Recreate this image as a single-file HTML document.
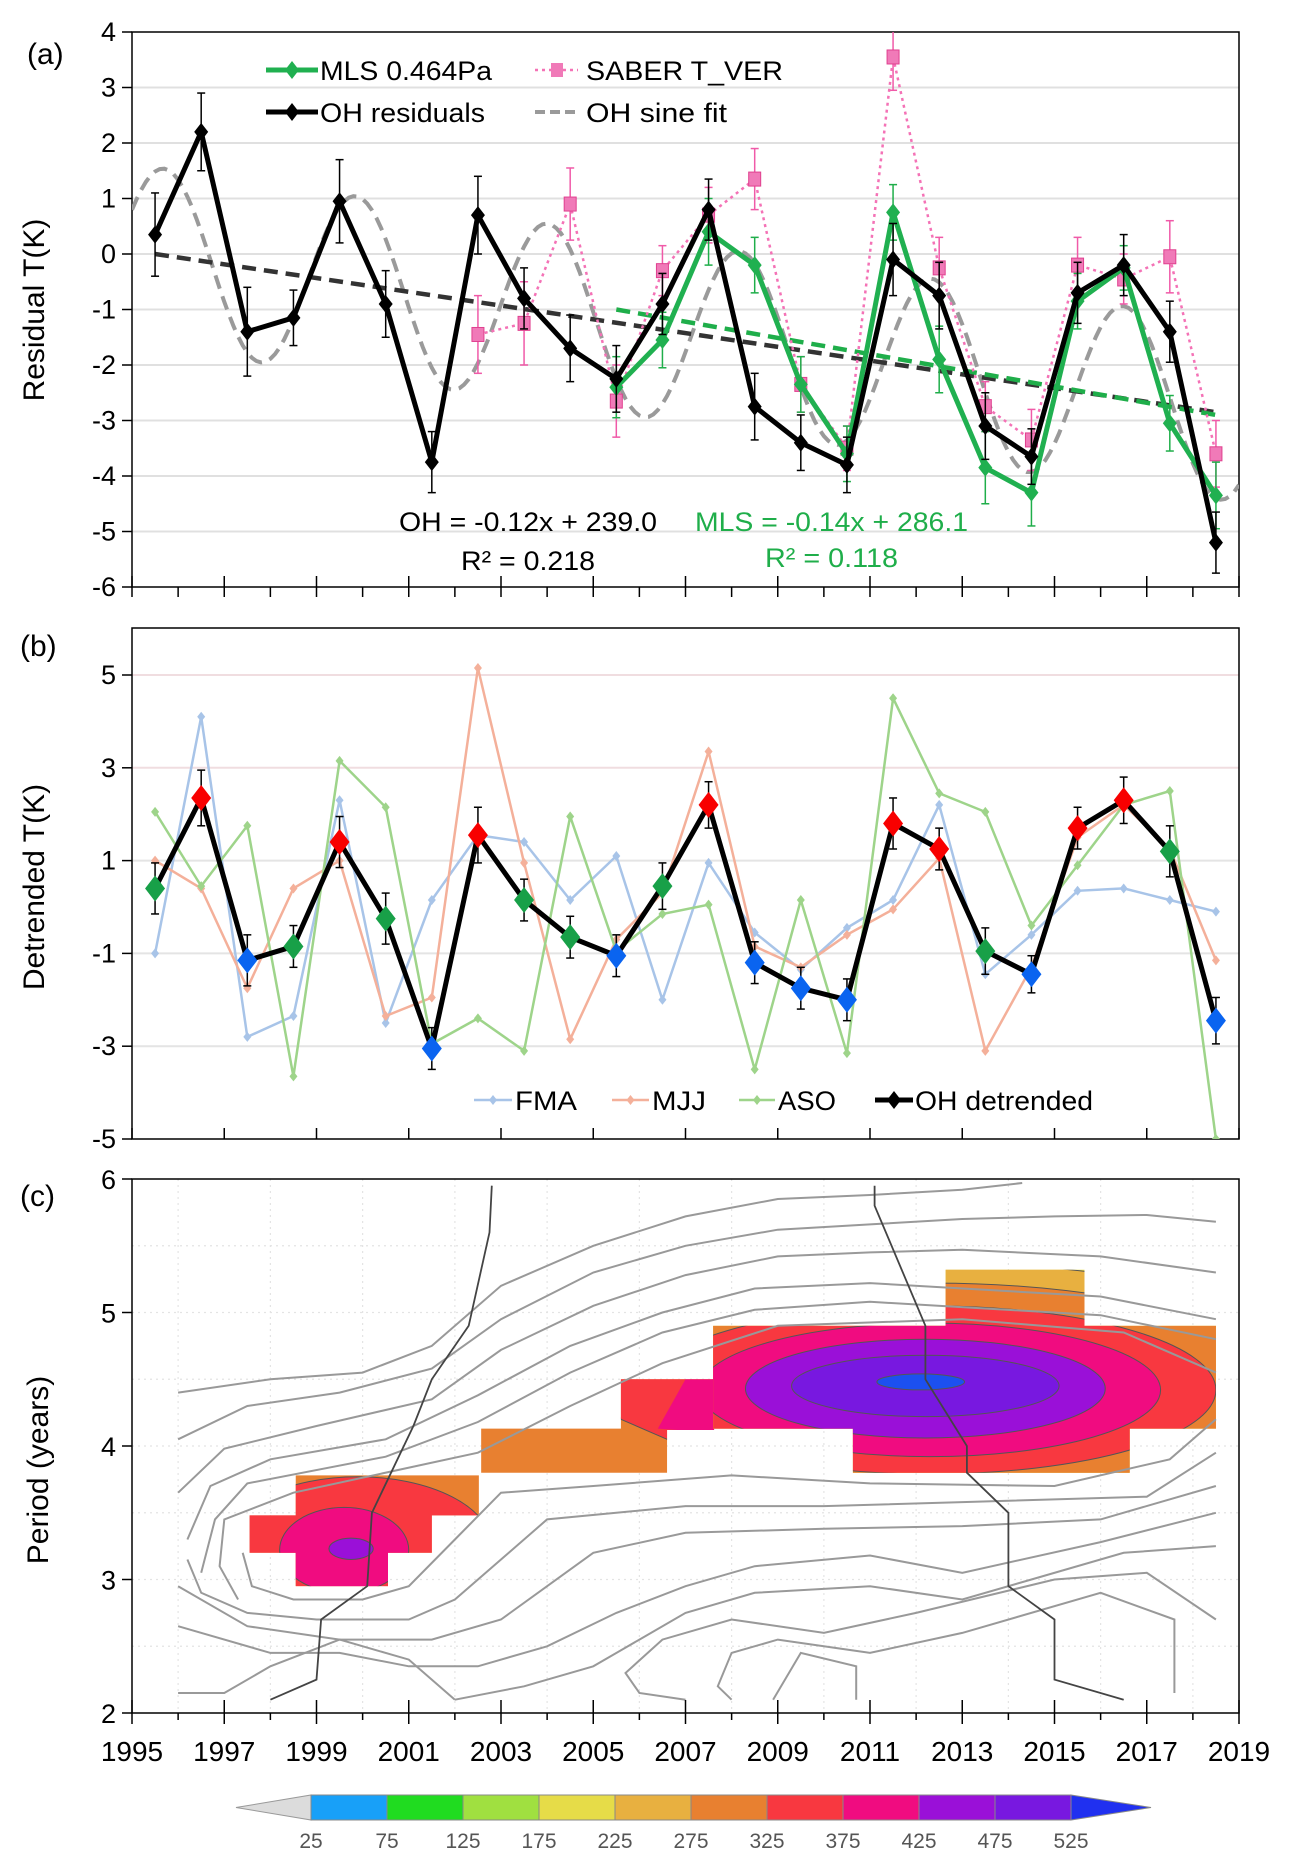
<!DOCTYPE html>
<html><head><meta charset="utf-8"><style>
html,body{margin:0;padding:0;background:#fff;}
svg{display:block;font-family:"Liberation Sans",Arial,sans-serif;}
</style></head><body>
<svg id="fig" width="1291" height="1864" viewBox="0 0 1291 1864" xmlns="http://www.w3.org/2000/svg">
<defs>
<clipPath id="clipA"><rect x="132" y="32" width="1107" height="555"/></clipPath>
<clipPath id="clipB"><rect x="132" y="628" width="1107" height="511"/></clipPath>
</defs>
<g id="pa"></g>
<g id="pb"></g>
<g id="pc"></g>
<g id="cb"></g>
</svg>
<script>
// ---------- DATA ----------
const years = [1995.5,1996.5,1997.5,1998.5,1999.5,2000.5,2001.5,2002.5,2003.5,2004.5,2005.5,2006.5,2007.5,2008.5,2009.5,2010.5,2011.5,2012.5,2013.5,2014.5,2015.5,2016.5,2017.5,2018.5];
const ohResid = [0.35,2.2,-1.4,-1.15,0.95,-0.9,-3.75,0.7,-0.8,-1.7,-2.25,-0.9,0.8,-2.75,-3.4,-3.8,-0.1,-0.75,-3.1,-3.65,-0.7,-0.2,-1.4,-5.2];
const ohErr = [0.75,0.7,0.8,0.5,0.75,0.6,0.55,0.7,0.55,0.6,0.6,0.55,0.55,0.6,0.5,0.5,0.65,0.6,0.6,0.5,0.55,0.55,0.55,0.55];
const mlsYears = [2005.5,2006.5,2007.5,2008.5,2009.5,2010.5,2011.5,2012.5,2013.5,2014.5,2015.5,2016.5,2017.5,2018.5];
const mlsVals = [-2.4,-1.55,0.4,-0.2,-2.35,-3.6,0.75,-1.9,-3.85,-4.3,-0.85,-0.25,-3.05,-4.35];
const mlsErr = [0.55,0.5,0.6,0.5,0.5,0.5,0.5,0.6,0.65,0.6,0.5,0.4,0.5,0.6];
const saberYears = [2002.5,2003.5,2004.5,2005.5,2006.5,2007.5,2008.5,2009.5,2010.5,2011.5,2012.5,2013.5,2014.5,2015.5,2016.5,2017.5,2018.5];
const saberVals = [-1.45,-1.25,0.9,-2.65,-0.3,0.7,1.35,-2.35,-3.5,3.55,-0.25,-2.75,-3.35,-0.2,-0.45,-0.05,-3.6];
const saberErr = [0.7,0.75,0.65,0.65,0.45,0.5,0.55,0.5,0.4,0.6,0.55,0.45,0.55,0.5,0.45,0.65,0.6];
// sine fit parameters: [offset at 1995, slope per year, amplitude, period, phase year]
const sineParams = [0.0, -0.119, 1.62, 4.16, 1994.66];
const ohTrendEnds = [0.0, -2.85];      // values at first/last year
const mlsTrendEnds = [-1.0, -2.9];
const aTicks = [4,3,2,1,0,-1,-2,-3,-4,-5,-6];

const ohDet = [0.4,2.35,-1.15,-0.85,1.4,-0.25,-3.05,1.55,0.15,-0.65,-1.05,0.45,2.2,-1.2,-1.75,-2.0,1.8,1.25,-0.95,-1.45,1.7,2.3,1.2,-2.45];
const ohDetErr = [0.55,0.6,0.55,0.45,0.55,0.55,0.45,0.6,0.45,0.45,0.45,0.5,0.5,0.45,0.45,0.45,0.55,0.45,0.5,0.4,0.45,0.5,0.55,0.5];
const ohDetClass = ['g','r','b','g','r','g','b','r','g','g','b','g','r','b','b','b','r','r','g','b','r','r','g','b'];
const fma = [-1.0,4.1,-2.8,-2.35,2.3,-2.5,0.15,1.55,1.4,0.15,1.1,-2.0,0.95,-0.55,-1.35,-0.45,0.15,2.2,-1.45,-0.6,0.35,0.4,0.15,-0.1];
const mjj = [1.0,0.4,-1.75,0.4,1.0,-2.35,-1.95,5.15,0.95,-2.85,-0.7,0.3,3.35,-0.85,-1.3,-0.6,-0.05,1.05,-3.1,-1.3,1.5,2.2,1.25,-1.15];
const aso = [2.05,0.45,1.75,-3.65,3.15,2.15,-2.95,-2.4,-3.1,1.95,-0.95,-0.15,0.05,-3.5,0.15,-3.15,4.5,2.45,2.05,-0.4,0.9,2.2,2.5,-5.0];
const bTicks = [5,3,1,-1,-3,-5];

const cTicks = [6,5,4,3,2];
const yearLabels = [1995,1997,1999,2001,2003,2005,2007,2009,2011,2013,2015,2017,2019];
const cbLevels = [25,75,125,175,225,275,325,375,425,475,525];
const cbColors = ['#18a0f8','#20dc20','#a0e040','#e6dc48','#e8b040','#e88030','#f83840','#f00c80','#9a10d8','#7818e0'];

// ---------- SCALES ----------
const X0=132, X1=1239;
const xs = t => X0 + (t-1995)*(X1-X0)/24;
const ya = v => 32 + (4-v)*55.5;
const yb = v => 675 + (5-v)*46.4;
const yc = p => 1179 + (6-p)*133.5;
const NS='http://www.w3.org/2000/svg';
function mk(tag, attrs, parent){const e=document.createElementNS(NS,tag);for(const k in attrs)e.setAttribute(k,attrs[k]);parent.appendChild(e);return e;}
function txt(str, attrs, parent){const e=mk('text',attrs,parent);e.textContent=str;return e;}
function pts(xsA, ysA, fy){return xsA.map((t,i)=>xs(t).toFixed(1)+','+fy(ysA[i]).toFixed(1)).join(' ');}
function diamond(cx,cy,w,h,fill,parent){return mk('polygon',{points:`${cx},${cy-h} ${cx+w},${cy} ${cx},${cy+h} ${cx-w},${cy}`,fill:fill},parent);}

const pa=document.getElementById('pa'), pb=document.getElementById('pb'), pc=document.getElementById('pc'), cb=document.getElementById('cb');

// ---------- PANEL A ----------
let g;
aTicks.forEach(v=>{
  if(v>-6 && v<4){ g=mk('line',{x1:X0,x2:X1,y1:ya(v),y2:ya(v),stroke:'#e0e0e0','stroke-width':2},pa);
   }
  g=mk('line',{x1:X0-10,x2:X0,y1:ya(v),y2:ya(v),stroke:'#000','stroke-width':1.5},pa);
  g=txt(String(v),{x:X0-16,y:ya(v)+9,'text-anchor':'end','font-size':27},pa);
   
});
mk('rect',{x:X0,y:32,width:X1-X0,height:555,fill:'none',stroke:'#000','stroke-width':1.5},pa);
for(let yr=1995; yr<=2019; yr++){
  const major=(yr%2===1);
  mk('line',{x1:xs(yr),x2:xs(yr),y1:major?576:587,y2:597,stroke:'#000','stroke-width':1.5},pa);
}
const ca=mk('g',{'clip-path':'url(#clipA)'},pa);
// sine fit
{
  const sp=[]; for(let t=1995; t<=2019.001; t+=0.1){const v=sineParams[0]+sineParams[1]*(t-1995)+sineParams[2]*Math.sin(2*Math.PI*(t-sineParams[4])/sineParams[3]); sp.push(xs(t).toFixed(1)+','+ya(v).toFixed(1));}
  g=mk('polyline',{points:sp.join(' '),fill:'none',stroke:'#9a9a9a','stroke-width':4,'stroke-dasharray':'14,8'},ca);
   
}
// trend lines
g=mk('line',{x1:xs(years[0]),y1:ya(ohTrendEnds[0]),x2:xs(years[23]),y2:ya(ohTrendEnds[1]),stroke:'#333','stroke-width':4.5,'stroke-dasharray':'14,8'},ca);
 
g=mk('line',{x1:xs(mlsYears[0]),y1:ya(mlsTrendEnds[0]),x2:xs(mlsYears[13]),y2:ya(mlsTrendEnds[1]),stroke:'#1fae4a','stroke-width':4.5,'stroke-dasharray':'14,8'},ca);
 
// SABER
saberYears.forEach((t,i)=>{mk('line',{x1:xs(t),x2:xs(t),y1:ya(saberVals[i]+saberErr[i]),y2:ya(saberVals[i]-saberErr[i]),stroke:'#f05aa8','stroke-width':1.5},ca);
 mk('line',{x1:xs(t)-4,x2:xs(t)+4,y1:ya(saberVals[i]+saberErr[i]),y2:ya(saberVals[i]+saberErr[i]),stroke:'#f05aa8','stroke-width':1.5},ca);
 mk('line',{x1:xs(t)-4,x2:xs(t)+4,y1:ya(saberVals[i]-saberErr[i]),y2:ya(saberVals[i]-saberErr[i]),stroke:'#f05aa8','stroke-width':1.5},ca);});
g=mk('polyline',{points:pts(saberYears,saberVals,ya),fill:'none',stroke:'#f472b6','stroke-width':2.5,'stroke-dasharray':'3,4'},ca);
 
saberYears.forEach((t,i)=>{g=mk('rect',{x:xs(t)-6,y:ya(saberVals[i])-7,width:12,height:14,fill:'#f07ab8',stroke:'#e0408f','stroke-width':1},ca);
  });
// MLS
mlsYears.forEach((t,i)=>{mk('line',{x1:xs(t),x2:xs(t),y1:ya(mlsVals[i]+mlsErr[i]),y2:ya(mlsVals[i]-mlsErr[i]),stroke:'#1fae4a','stroke-width':1.5},ca);
 [1,-1].forEach(s=>mk('line',{x1:xs(t)-4,x2:xs(t)+4,y1:ya(mlsVals[i]+s*mlsErr[i]),y2:ya(mlsVals[i]+s*mlsErr[i]),stroke:'#1fae4a','stroke-width':1.5},ca));});
g=mk('polyline',{points:pts(mlsYears,mlsVals,ya),fill:'none',stroke:'#20b050','stroke-width':5},ca);
 
mlsYears.forEach((t,i)=>{g=diamond(xs(t),ya(mlsVals[i]),7,9,'#20b050',ca);
  });
// OH
years.forEach((t,i)=>{mk('line',{x1:xs(t),x2:xs(t),y1:ya(ohResid[i]+ohErr[i]),y2:ya(ohResid[i]-ohErr[i]),stroke:'#000','stroke-width':1.5},ca);
 [1,-1].forEach(s=>mk('line',{x1:xs(t)-4,x2:xs(t)+4,y1:ya(ohResid[i]+s*ohErr[i]),y2:ya(ohResid[i]+s*ohErr[i]),stroke:'#000','stroke-width':1.5},ca));});
g=mk('polyline',{points:pts(years,ohResid,ya),fill:'none',stroke:'#000','stroke-width':5},ca);
 
years.forEach((t,i)=>{g=diamond(xs(t),ya(ohResid[i]),7,9,'#000',ca);
  });
// legend a
g=mk('g',{},pa);  
mk('line',{x1:266,x2:318,y1:70,y2:70,stroke:'#20b050','stroke-width':5},g); diamond(292,70,7,9,'#20b050',g);
txt('MLS 0.464Pa',{x:320,y:80,'font-size':27,textLength:172,lengthAdjust:'spacingAndGlyphs'},g);
mk('line',{x1:535,x2:578,y1:70,y2:70,stroke:'#f472b6','stroke-width':2.5,'stroke-dasharray':'3,4'},g); mk('rect',{x:551,y:63,width:12,height:14,fill:'#f07ab8'},g);
txt('SABER T_VER',{x:586,y:80,'font-size':27,textLength:197,lengthAdjust:'spacingAndGlyphs'},g);
mk('line',{x1:266,x2:318,y1:112,y2:112,stroke:'#000','stroke-width':5},g); diamond(292,112,7,9,'#000',g);
txt('OH residuals',{x:320,y:122,'font-size':27,textLength:165,lengthAdjust:'spacingAndGlyphs'},g);
mk('line',{x1:535,x2:578,y1:112,y2:112,stroke:'#9a9a9a','stroke-width':4,'stroke-dasharray':'10,5'},g);
txt('OH  sine  fit',{x:586,y:122,'font-size':27,textLength:141,lengthAdjust:'spacingAndGlyphs'},g);
// equations
g=txt('OH = -0.12x + 239.0',{x:399,y:531,'font-size':27,textLength:258,lengthAdjust:'spacingAndGlyphs'},pa);  
g=txt('R² = 0.218',{x:461,y:570,'font-size':27,textLength:134,lengthAdjust:'spacingAndGlyphs'},pa);  
g=txt('MLS = -0.14x + 286.1',{x:695,y:531,'font-size':27,fill:'#1fae4a',textLength:273,lengthAdjust:'spacingAndGlyphs'},pa);  
g=txt('R² = 0.118',{x:765,y:567,'font-size':27,fill:'#1fae4a',textLength:133,lengthAdjust:'spacingAndGlyphs'},pa);  
g=txt('(a)',{x:27,y:64,'font-size':30},pa);  
g=txt('Residual T(K)',{x:0,y:0,'font-size':30,'text-anchor':'middle',transform:'translate(44,310) rotate(-90)'},pa);  

// ---------- PANEL B ----------
bTicks.forEach(v=>{
  if(v>-5){ g=mk('line',{x1:X0,x2:X1,y1:yb(v),y2:yb(v),stroke:(v===5||v===3)?'#f0dde0':'#e4e4e4','stroke-width':2},pb);
   }
  mk('line',{x1:X0-10,x2:X0,y1:yb(v),y2:yb(v),stroke:'#000','stroke-width':1.5},pb);
  g=txt(String(v),{x:X0-16,y:yb(v)+9,'text-anchor':'end','font-size':27},pb);
   
});
mk('rect',{x:X0,y:628,width:X1-X0,height:511,fill:'none',stroke:'#000','stroke-width':1.5},pb);
for(let yr=1995; yr<=2019; yr++){
  const major=(yr%2===1);
  mk('line',{x1:xs(yr),x2:xs(yr),y1:major?1128:1139,y2:1139,stroke:'#000','stroke-width':1.5},pb);
}
const cbp=mk('g',{'clip-path':'url(#clipB)'},pb);
[[fma,'#a8c4e8','fma-line'],[mjj,'#f4b09a','mjj-line'],[aso,'#9ed48a','aso-line']].forEach(([arr,col,nm])=>{
  g=mk('polyline',{points:pts(years,arr,yb),fill:'none',stroke:col,'stroke-width':2.5},cbp);
   
  years.forEach((t,i)=>{g=diamond(xs(t),yb(arr[i]),4,5,col,cbp);
     });
});
years.forEach((t,i)=>{mk('line',{x1:xs(t),x2:xs(t),y1:yb(ohDet[i]+ohDetErr[i]),y2:yb(ohDet[i]-ohDetErr[i]),stroke:'#000','stroke-width':1.5},cbp);
 [1,-1].forEach(s=>mk('line',{x1:xs(t)-4,x2:xs(t)+4,y1:yb(ohDet[i]+s*ohDetErr[i]),y2:yb(ohDet[i]+s*ohDetErr[i]),stroke:'#000','stroke-width':1.5},cbp));});
g=mk('polyline',{points:pts(years,ohDet,yb),fill:'none',stroke:'#000','stroke-width':5},cbp);
 
const clsCol={r:'#f80000',g:'#18a048',b:'#0a64f0'};
years.forEach((t,i)=>{g=diamond(xs(t),yb(ohDet[i]),10,13,clsCol[ohDetClass[i]],cbp);
  });
g=mk('g',{},pb);  
[[474,512,'#a8c4e8','FMA',62],[612,649,'#f4b09a','MJJ',54],[739,775,'#9ed48a','ASO',58]].forEach(([a,b,c,l,w])=>{
  mk('line',{x1:a,x2:b,y1:1100,y2:1100,stroke:c,'stroke-width':2.5},g); diamond((a+b)/2,1100,4,5,c,g);
  txt(l,{x:b+3,y:1110,'font-size':27,textLength:w,lengthAdjust:'spacingAndGlyphs'},g);});
mk('line',{x1:875,x2:913,y1:1100,y2:1100,stroke:'#000','stroke-width':5},g); diamond(894,1100,7,9,'#000',g);
txt('OH detrended',{x:915,y:1110,'font-size':27,textLength:178,lengthAdjust:'spacingAndGlyphs'},g);
g=txt('(b)',{x:20,y:656,'font-size':30},pb);  
g=txt('Detrended T(K)',{x:0,y:0,'font-size':30,'text-anchor':'middle',transform:'translate(44,887) rotate(-90)'},pb);  

// ---------- PANEL C ----------
// grid
for(let yr=1996; yr<=2018; yr+=2){mk('line',{x1:xs(yr),x2:xs(yr),y1:1179,y2:1713,stroke:'#e4e4e4','stroke-width':1.2,'stroke-dasharray':'2,4'},pc);}
[5.5,5,4.5,4,3.5,3,2.5].forEach(p=>mk('line',{x1:X0,x2:X1,y1:yc(p),y2:yc(p),stroke:'#e4e4e4','stroke-width':1.2,'stroke-dasharray':'2,4'},pc));
function P(arr){return arr.map(q=>xs(q[0]).toFixed(1)+','+yc(q[1]).toFixed(1)).join(' ');}
// significance regions as rect unions (year0,year1,p0,p1)
const regL=[[1997.55,1998.6,3.2,3.48],[1998.55,2002.52,3.48,3.78],[1998.55,2001.5,3.2,3.49],[1998.55,2000.55,2.95,3.21]];
const regM=[[2002.57,2006.6,3.8,4.13],[2005.6,2007.62,4.12,4.5]];
const regR=[[2007.6,2018.5,4.13,4.9],[2012.64,2015.65,4.88,5.32],[2010.63,2016.63,3.8,4.14]];
function clipFor(id,rects){const cp=mk('clipPath',{id:id},document.querySelector('defs'));rects.forEach(r=>mk('rect',{x:xs(r[0]),y:yc(r[3]),width:xs(r[1])-xs(r[0]),height:yc(r[2])-yc(r[3])},cp));}
clipFor('cL',regL); clipFor('cM',regM); clipFor('cR',regR);
// power levels: ellipses [cx year, cy period, rx years, ry period, color]
const rings=mk('g',{},pc);  
const gL=mk('g',{'clip-path':'url(#cL)'},rings);
mk('rect',{x:0,y:1179,width:1291,height:534,fill:'#e88030'},gL);
[[1999.9,3.25,2.9,0.52,'#f83840'],[1999.6,3.22,1.4,0.32,'#f00c80'],[1999.75,3.23,0.48,0.08,'#9a10d8']].forEach(e=>
  mk('ellipse',{cx:xs(e[0]),cy:yc(e[1]),rx:xs(e[0]+e[2])-xs(e[0]),ry:yc(e[1]-e[3])-yc(e[1]),fill:e[4],stroke:'#555','stroke-width':1},gL));
const gM=mk('g',{'clip-path':'url(#cM)'},rings);
mk('rect',{x:0,y:1179,width:1291,height:534,fill:'#e88030'},gM);
mk('polygon',{points:P([[2005.6,4.2],[2006.6,4.05],[2007.6,4.0],[2007.6,4.6],[2005.2,4.6]]),fill:'#f83840',stroke:'#555','stroke-width':1},gM);
mk('polygon',{points:P([[2006.4,4.13],[2007.0,4.5],[2007.7,4.5],[2007.7,4.1]]),fill:'#f00c80'},gM);
const gR=mk('g',{'clip-path':'url(#cR)'},rings);
mk('rect',{x:0,y:1179,width:1291,height:534,fill:'#e6dc48'},gR);
[[2012.4,4.42,9.2,0.95,'#e8b040'],[2012.4,4.42,7.8,0.8,'#e88030'],[2012.3,4.42,6.2,0.63,'#f83840'],[2012.3,4.42,5.0,0.5,'#f00c80'],[2012.2,4.43,3.9,0.37,'#9a10d8'],[2012.2,4.45,2.9,0.23,'#7818e0'],[2012.1,4.48,0.95,0.06,'#1c50f0']].forEach(e=>
  mk('ellipse',{cx:xs(e[0]),cy:yc(e[1]),rx:xs(e[0]+e[2])-xs(e[0]),ry:yc(e[1]-e[3])-yc(e[1]),fill:e[4],stroke:'#555','stroke-width':1},gR));
// gray contour lines
const contours=[
 [[1996,4.4],[1998,4.5],[2000,4.55],[2001.5,4.75],[2003,5.2],[2005,5.5],[2007,5.72],[2009,5.85],[2011,5.88],[2013,5.92],[2014.3,5.97]],
 [[1996,4.05],[1997.5,4.3],[1999.5,4.4],[2001.5,4.58],[2003,4.95],[2005,5.3],[2007,5.5],[2009,5.62],[2011,5.66],[2013,5.7],[2015,5.72],[2017,5.73],[2018.5,5.68]],
 [[1996,3.65],[1997,3.98],[1999,4.15],[2001.5,4.35],[2003,4.72],[2005,5.05],[2007,5.28],[2009,5.42],[2011,5.45],[2013,5.47],[2016,5.42],[2018.5,5.3]],
 [[1996.2,3.3],[1996.7,3.7],[1998,3.9],[2000.5,4.05],[2002.5,4.38],[2004.5,4.75],[2006.5,5.0],[2008.5,5.18],[2011,5.22],[2016,5.12],[2018.5,4.95]],
 [[1996.5,3.05],[1996.8,3.45],[1997.5,3.72],[2000.5,3.92],[2002.5,4.18],[2004.5,4.55],[2006.5,4.85],[2008.5,5.02],[2011,5.08],[2016,4.98],[2018.5,4.8]],
 [[1997.3,2.85],[1996.9,3.1],[1997.0,3.45],[1998.5,3.65],[2002.5,3.95],[2004.5,4.3],[2006.5,4.62],[2009,4.9],[2013,4.95],[2016.5,4.85],[2018.5,4.55]],
 [[2018.5,4.2],[2017.5,3.9],[2015,3.7],[2011,3.72],[2008,3.78],[2005,3.7],[2003,3.65],[2002,3.3],[2001,2.95],[2000,2.85],[1998.5,2.85],[1997.6,2.95],[1997.4,3.2]],
 [[2018.5,3.95],[2017,3.62],[2013,3.58],[2010,3.55],[2007,3.55],[2004,3.45],[2003,3.15],[2002,2.85],[2001,2.7],[1999,2.7],[1997.5,2.75],[1996.5,2.9],[1996.2,3.15]],
 [[2018.5,3.7],[2016,3.45],[2013,3.4],[2010,3.38],[2007,3.35],[2005,3.2],[2004,2.95],[2003,2.7],[2001.5,2.55],[1999.5,2.55],[1997.5,2.65],[1996,2.95]],
 [[2018.5,3.5],[2016,3.28],[2013,3.05],[2011,3.18],[2008.5,3.1],[2007,2.95],[2005.5,2.75],[2004,2.5],[2002.5,2.35],[2001,2.35],[1999.5,2.45],[1998,2.45],[1996,2.65]],
 [[2018.5,3.25],[2016.5,3.2],[2014.5,3.0],[2013,2.85],[2011,2.95],[2008.5,2.9],[2007,2.75],[2006,2.55],[2005,2.35],[2003.5,2.2],[2002,2.1]],
 [[2018.5,2.7],[2017,3.05],[2015,3.0],[2012,2.75],[2010,2.6],[2008,2.7],[2006.5,2.55],[2005.7,2.3],[2006,2.15],[2007,2.1]],
 [[2017.6,2.15],[2017.6,2.7],[2016,2.9],[2013,2.6],[2011,2.45],[2009,2.55],[2008,2.45],[2007.7,2.2],[2008,2.1]],
 [[1996,2.15],[1997,2.15],[1998,2.35],[1999.5,2.55],[2001,2.4],[2002,2.1]],
 [[2010.7,2.1],[2010.7,2.35],[2009.5,2.45],[2008.9,2.1]]
];
contours.forEach(c=>{g=mk('polyline',{points:P(c),fill:'none',stroke:'#999','stroke-width':2},pc);
  });
const ridge1=[[1998,2.1],[1999,2.25],[1999.1,2.7],[2000.1,2.95],[2000.2,3.5],[2001.1,4.15],[2001.5,4.5],[2002.3,4.9],[2002.75,5.6],[2002.8,5.95]];
const ridge2=[[2011.1,5.95],[2011.1,5.8],[2012.2,4.9],[2012.2,4.5],[2013.1,4.0],[2013.1,3.8],[2014,3.5],[2014,2.95],[2015,2.7],[2015,2.25],[2016.5,2.1]];
[ridge1,ridge2].forEach(r=>{g=mk('polyline',{points:P(r),fill:'none',stroke:'#444','stroke-width':1.8},pc);
  });
mk('rect',{x:X0,y:1179,width:X1-X0,height:534,fill:'none',stroke:'#000','stroke-width':1.5},pc);
cTicks.forEach(p=>{mk('line',{x1:X0-10,x2:X0,y1:yc(p),y2:yc(p),stroke:'#000','stroke-width':1.5},pc);
 g=txt(String(p),{x:X0-16,y:yc(p)+10,'text-anchor':'end','font-size':27},pc);
  });
for(let yr=1995; yr<=2019; yr++){
  const major=(yr%2===1);
  mk('line',{x1:xs(yr),x2:xs(yr),y1:major?1700:1713,y2:major?1724:1720,stroke:'#000','stroke-width':1.5},pc);
}
yearLabels.forEach(yr=>{g=txt(String(yr),{x:xs(yr),y:1761,'text-anchor':'middle','font-size':28},pc);
  });
g=txt('(c)',{x:20,y:1206,'font-size':30},pc);  
g=txt('Period (years)',{x:0,y:0,'font-size':30,'text-anchor':'middle',transform:'translate(48,1470) rotate(-90)'},pc);  

// ---------- COLORBAR ----------
const cbx0=311, cbw=76, cby0=1795, cby1=1820;
mk('polygon',{points:`236,${(cby0+cby1)/2} ${cbx0},${cby0} ${cbx0},${cby1}`,fill:'#dcdcdc',stroke:'#999','stroke-width':1},cb);
cbColors.forEach((c,i)=>{g=mk('rect',{x:cbx0+i*cbw,y:cby0,width:cbw,height:cby1-cby0,fill:c,stroke:'#888','stroke-width':1},cb);
  });
const cbEnd=cbx0+cbColors.length*cbw;
mk('polygon',{points:`${cbEnd},${cby0} ${cbEnd+80},${(cby0+cby1)/2} ${cbEnd},${cby1}`,fill:'#2030f0',stroke:'#888','stroke-width':1},cb);
cbLevels.forEach((v,i)=>{g=txt(String(v),{x:cbx0+i*cbw,y:1848,'text-anchor':'middle','font-size':21,fill:'#555'},cb);
  });
</script>
</body></html>
